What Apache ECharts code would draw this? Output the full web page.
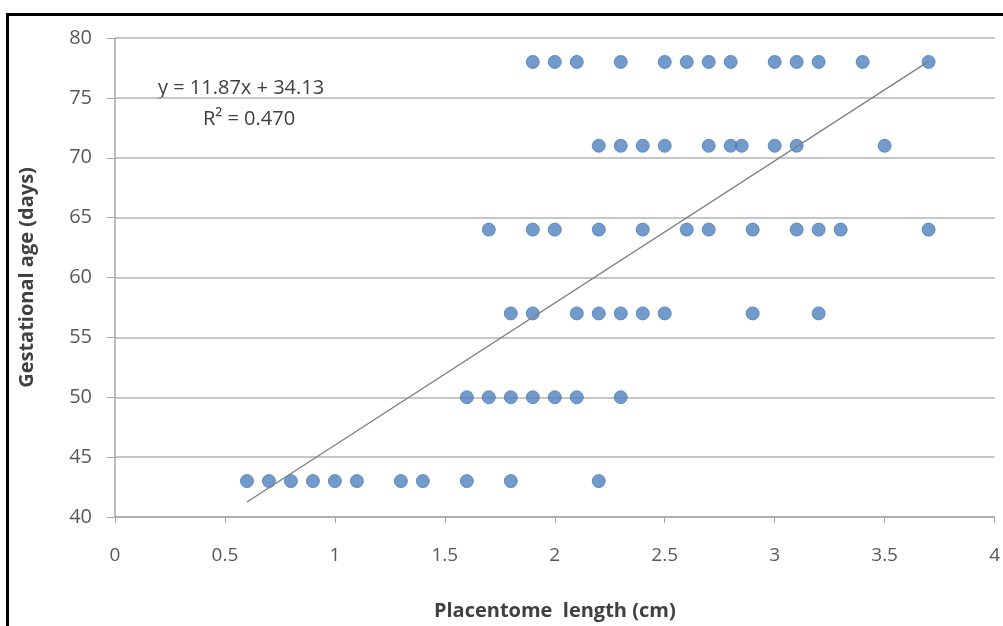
<!DOCTYPE html>
<html>
<head>
<meta charset="utf-8">
<script src="https://cdn.jsdelivr.net/npm/echarts@6/dist/echarts.min.js"></script>
<style>
  html, body { margin: 0; padding: 0; background: #fff; }
  #frame { position: absolute; left: 6px; top: 13px; width: 1100px; height: 700px; border: 3px solid #000; }
  #chart { position: absolute; left: 0; top: 0; width: 1003px; height: 626px; }
</style>
</head>
<body>
<div id="frame"></div>
<div id="chart"></div>
<script>
// gestational age groups (days)
const ages = [43, 50, 57, 64, 71, 78]
// placentome lengths (cm) for each age group
const len43 = [0.6, 0.7, 0.8, 0.9, 1.0, 1.1, 1.3, 1.4, 1.6, 1.8, 2.2]
const len50 = [1.6, 1.7, 1.8, 1.9, 2.0, 2.1, 2.3]
const len57 = [1.8, 1.9, 2.1, 2.2, 2.3, 2.4, 2.5, 2.9, 3.2]
const len64 = [1.7, 1.9, 2.0, 2.2, 2.4, 2.6, 2.7, 2.9, 3.1, 3.2, 3.3, 3.7]
const len71 = [2.2, 2.3, 2.4, 2.5, 2.7, 2.8, 2.85, 3.0, 3.1, 3.5]
const len78 = [1.9, 2.0, 2.1, 2.3, 2.5, 2.6, 2.7, 2.8, 3.0, 3.1, 3.2, 3.4, 3.7]
// linear fit shown on the chart
const slope = 11.87
const intercept = 34.13
const xTicks = { min: 0, max: 4, interval: 0.5 }
const yTicks = { min: 40, max: 80, interval: 5 }

const groups = [len43, len50, len57, len64, len71, len78]
const points = []
groups.forEach((lens, i) => {
  lens.forEach(x => points.push([x, ages[i]]))
})

// trend line spans the data range
const xs = points.map(p => p[0])
const xLo = Math.min(...xs)
const xHi = Math.max(...xs)
const trend = [[xLo, slope * xLo + intercept], [xHi, slope * xHi + intercept]]

const font = 'Open Sans, Liberation Sans, sans-serif'
const chart = echarts.init(document.getElementById('chart'))
chart.setOption({
  animation: false,
  grid: { left: 115, right: 6, top: 38, bottom: 108 },
  xAxis: {
    type: 'value',
    min: xTicks.min,
    max: xTicks.max,
    interval: xTicks.interval,
    name: 'Placentome  length (cm)',
    nameLocation: 'middle',
    nameGap: 84,
    nameTextStyle: { fontFamily: font, fontSize: 20, fontWeight: 'bold', color: '#404040' },
    axisLine: { show: true, lineStyle: { color: '#a6a6a6', width: 1.5 } },
    axisTick: { show: true, length: 6, lineStyle: { color: '#a6a6a6' } },
    axisLabel: { fontFamily: font, fontSize: 19, color: '#595959', margin: 29 },
    splitLine: { show: false }
  },
  yAxis: {
    type: 'value',
    min: yTicks.min,
    max: yTicks.max,
    interval: yTicks.interval,
    name: 'Gestational age (days)',
    nameLocation: 'middle',
    nameGap: 78,
    nameTextStyle: { fontFamily: font, fontSize: 20, fontWeight: 'bold', color: '#404040' },
    axisLine: { show: true, lineStyle: { color: '#a6a6a6', width: 1.5 } },
    axisTick: { show: true, length: 8, lineStyle: { color: '#a6a6a6' } },
    axisLabel: { fontFamily: font, fontSize: 20, color: '#595959', margin: 23 },
    splitLine: { show: true, lineStyle: { color: '#b3b3b3', width: 1.5 } }
  },
  graphic: [
    { type: 'text', left: 158, top: 78, style: { text: 'y = 11.87x + 34.13', font: '20px ' + font, fill: '#404040' } },
    { type: 'text', left: 203, top: 109, style: { text: 'R² = 0.470', font: '20px ' + font, fill: '#404040' } }
  ],
  series: [
    {
      type: 'scatter',
      data: points,
      symbolSize: 13,
      itemStyle: { color: '#4f81bd', borderColor: '#4a7ebb', borderWidth: 1 },
      z: 3
    },
    {
      type: 'line',
      data: trend,
      symbol: 'none',
      lineStyle: { color: '#7f7f7f', width: 1.3 },
      z: 4
    }
  ]
})
</script>
</body>
</html>
